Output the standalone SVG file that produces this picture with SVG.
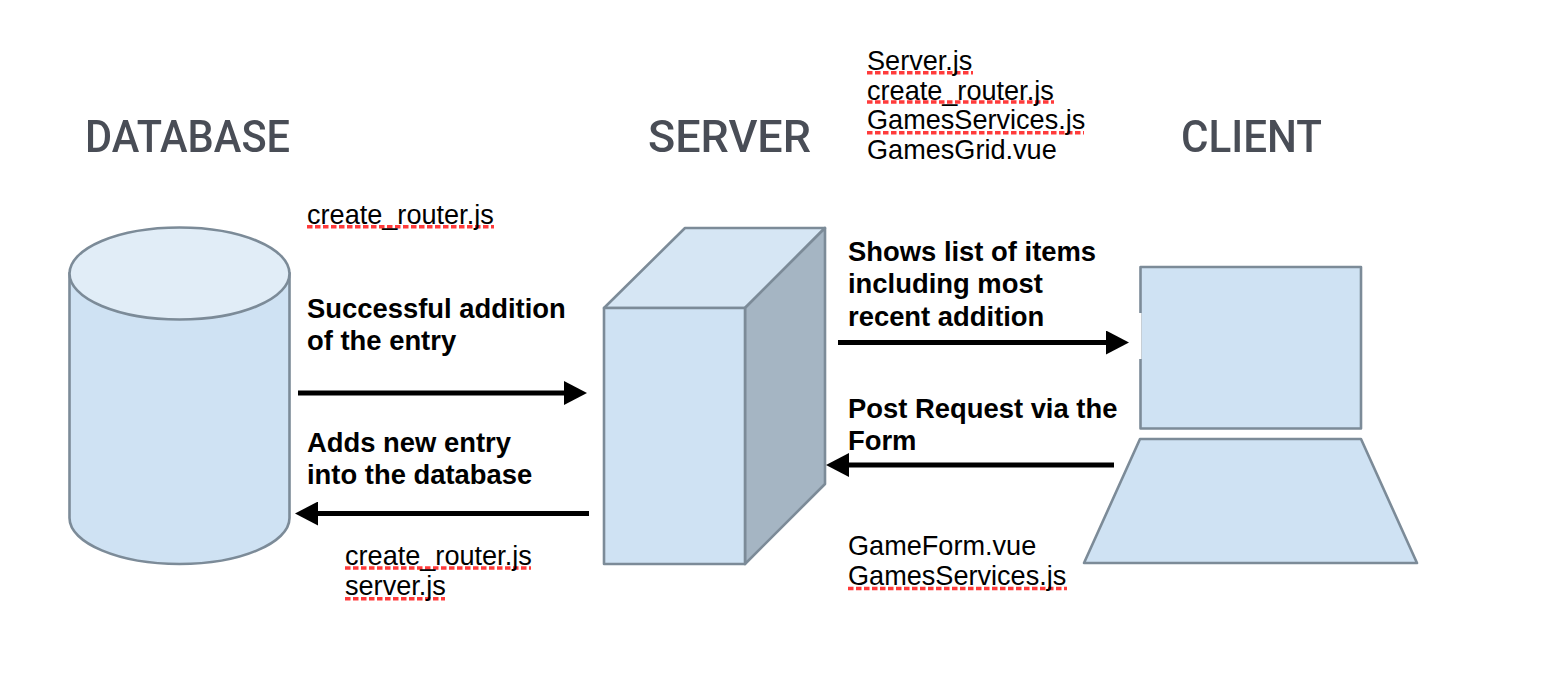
<svg xmlns="http://www.w3.org/2000/svg" width="1548" height="700" viewBox="0 0 1548 700">
<style>
.h{font-family:Roboto,"Liberation Sans",sans-serif;font-size:45px;font-weight:500;fill:#4a4e57;filter:url(#soft)}
.t{font-family:"Liberation Sans",Arial,sans-serif;font-size:27.1px;fill:#000}
.b{font-weight:bold;font-size:27.4px}
.s{stroke:#7c8b98;stroke-width:2.600;stroke-linejoin:round;filter:url(#soft)}
.f{fill:#cfe2f3}.l{fill:#e1edf7}.tp{fill:#d6e6f4}.d{fill:#a5b5c3}
.u{stroke:#ff3b3b;stroke-width:3.500;stroke-dasharray:5.500 2.500;fill:none}
.c{stroke:#000;stroke-width:5;fill:none}
</style>
<defs>
<filter id="soft" x="-5%" y="-5%" width="110%" height="110%"><feGaussianBlur stdDeviation="0.6"/></filter>
<marker id="a" markerUnits="userSpaceOnUse" markerWidth="24" markerHeight="24" refX="2" refY="12" orient="auto"><path d="M0 0L23 12L0 24Z" fill="#000"/></marker>
</defs>
<g id="database">
<text class="h" x="85" y="152" textLength="205" lengthAdjust="spacingAndGlyphs">DATABASE</text>
<path class="s f" d="M69.500 273V518C69.500 543 119 564 179.500 564S289.500 543 289.500 518V273Z"/>
<ellipse class="s l" cx="179.500" cy="273.500" rx="110" ry="46"/>
</g>
<g id="server">
<text class="h" x="648" y="152" textLength="163" lengthAdjust="spacingAndGlyphs">SERVER</text>
<path class="s tp" d="M604 308L685 228H825L745 308Z"/>
<path class="s d" d="M745 308L825 228V484L745 564Z"/>
<rect class="s f" x="604" y="308" width="141" height="256"/>
</g>
<g id="client">
<text class="h" x="1181" y="152" textLength="141" lengthAdjust="spacingAndGlyphs">CLIENT</text>
<rect class="s f" x="1140.500" y="267" width="220.500" height="161.500"/>
<rect x="1137" y="313" width="4.500" height="46" fill="#fff"/>
<path class="s f" d="M1140 439H1361L1417 563H1084Z"/>
</g>
<g id="connectors">
<path class="c" d="M298 393H566" marker-end="url(#a)"/>
<path class="c" d="M589 513.500H316" marker-end="url(#a)"/>
<path class="c" d="M838 342.500H1108" marker-end="url(#a)"/>
<path class="c" d="M1114 465H847" marker-end="url(#a)"/>
</g>
<g id="labels">
<path class="u" d="M307 226.700H494M345 568H531M345 598.700H445M867 72.700H973M867 102H1054M867 132.700H1084M848 588.500H1067"/>
<text class="t" x="307" y="224">create_router.js</text>
<text class="t b" x="307" y="318">Successful addition</text>
<text class="t b" x="307" y="350">of the entry</text>
<text class="t b" x="307" y="452">Adds new entry</text>
<text class="t b" x="307" y="484">into the database</text>
<text class="t" x="345" y="565">create_router.js</text>
<text class="t" x="345" y="595">server.js</text>
<text class="t" x="867" y="70">Server.js</text>
<text class="t" x="867" y="100">create_router.js</text>
<text class="t" x="867" y="129">GamesServices.js</text>
<text class="t" x="867" y="159">GamesGrid.vue</text>
<text class="t b" x="848" y="261">Shows list of items</text>
<text class="t b" x="848" y="293">including most</text>
<text class="t b" x="848" y="326">recent addition</text>
<text class="t b" x="848" y="418">Post Request via the</text>
<text class="t b" x="848" y="450">Form</text>
<text class="t" x="848" y="555">GameForm.vue</text>
<text class="t" x="848" y="585">GamesServices.js</text>
</g>
</svg>
